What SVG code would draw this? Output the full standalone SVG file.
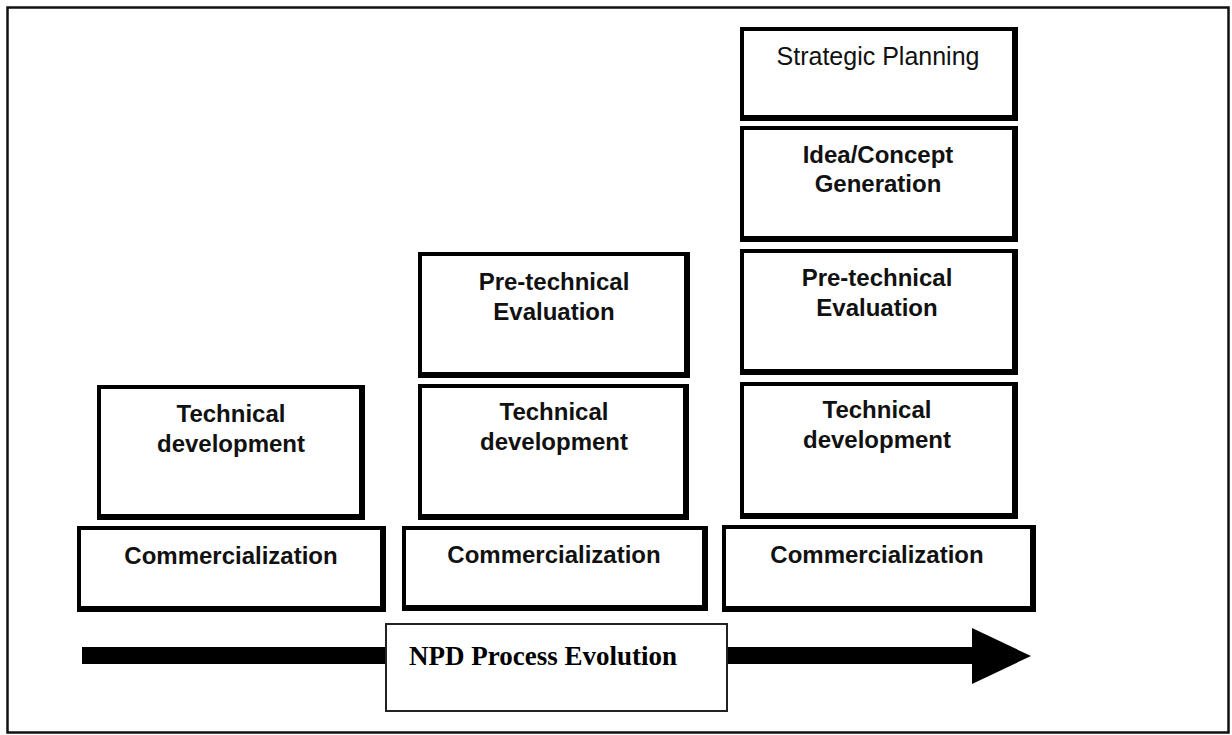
<svg xmlns="http://www.w3.org/2000/svg" width="1232" height="735" viewBox="0 0 1232 735">
  <style>
    .edge { fill: #000; }
    .face { fill: #fff; }
    .lbl { font-family: "Liberation Sans", Arial, sans-serif; font-weight: bold; font-size: 24px; fill: #111; text-anchor: middle; }
    .lbl-reg { font-family: "Liberation Sans", Arial, sans-serif; font-size: 25px; fill: #111; text-anchor: middle; }
    .title { font-family: "Liberation Serif", "Times New Roman", serif; font-weight: bold; font-size: 27px; fill: #000; }
  </style>

  <!-- page background and frame -->
  <rect x="0" y="0" width="1232" height="735" fill="#fff"/>
  <rect x="7.5" y="7.5" width="1221" height="725" fill="none" stroke="#111" stroke-width="2.5"/>

  <!-- evolution arrow -->
  <g id="connectors">
    <rect x="82" y="647" width="895" height="17" fill="#000"/>
    <polygon points="972,628 1031,656 972,684" fill="#000"/>
  </g>

  <!-- stage 1 -->
  <g id="s1-tech">
    <rect class="edge" x="97" y="385" width="268" height="135"/>
    <rect class="face" x="101" y="389" width="258" height="125"/>
    <text class="lbl" x="231" y="422">Technical</text>
    <text class="lbl" x="231" y="452">development</text>
  </g>
  <g id="s1-comm">
    <rect class="edge" x="77" y="526" width="309" height="86"/>
    <rect class="face" x="81" y="530" width="299" height="76"/>
    <text class="lbl" x="231" y="564">Commercialization</text>
  </g>

  <!-- stage 2 -->
  <g id="s2-pretech">
    <rect class="edge" x="418" y="252" width="272" height="126"/>
    <rect class="face" x="422" y="256" width="262" height="116"/>
    <text class="lbl" x="554" y="290">Pre-technical</text>
    <text class="lbl" x="554" y="320">Evaluation</text>
  </g>
  <g id="s2-tech">
    <rect class="edge" x="418" y="384" width="271" height="136"/>
    <rect class="face" x="422" y="388" width="261" height="126"/>
    <text class="lbl" x="554" y="420">Technical</text>
    <text class="lbl" x="554" y="450">development</text>
  </g>
  <g id="s2-comm">
    <rect class="edge" x="402" y="526" width="306" height="85"/>
    <rect class="face" x="406" y="530" width="296" height="75"/>
    <text class="lbl" x="554" y="563">Commercialization</text>
  </g>

  <!-- stage 3 -->
  <g id="s3-strategic">
    <rect class="edge" x="740" y="27" width="278" height="94"/>
    <rect class="face" x="744" y="31" width="268" height="84"/>
    <text class="lbl-reg" x="878" y="65">Strategic Planning</text>
  </g>
  <g id="s3-idea">
    <rect class="edge" x="740" y="126" width="278" height="116"/>
    <rect class="face" x="744" y="130" width="268" height="106"/>
    <text class="lbl" x="878" y="163" font-size="25">Idea/Concept</text>
    <text class="lbl" x="878" y="192" font-size="25">Generation</text>
  </g>
  <g id="s3-pretech">
    <rect class="edge" x="740" y="249" width="278" height="126"/>
    <rect class="face" x="744" y="253" width="268" height="116"/>
    <text class="lbl" x="877" y="286">Pre-technical</text>
    <text class="lbl" x="877" y="316">Evaluation</text>
  </g>
  <g id="s3-tech">
    <rect class="edge" x="740" y="382" width="278" height="137"/>
    <rect class="face" x="744" y="386" width="268" height="127"/>
    <text class="lbl" x="877" y="418">Technical</text>
    <text class="lbl" x="877" y="448">development</text>
  </g>
  <g id="s3-comm">
    <rect class="edge" x="722" y="525" width="314" height="87"/>
    <rect class="face" x="726" y="529" width="304" height="77"/>
    <text class="lbl" x="877" y="563">Commercialization</text>
  </g>

  <!-- caption box sitting on the arrow -->
  <g id="npd-label">
    <rect x="386" y="624" width="341" height="87" fill="#fff" stroke="#222" stroke-width="2"/>
    <text class="title" x="409" y="665">NPD Process Evolution</text>
  </g>
</svg>
